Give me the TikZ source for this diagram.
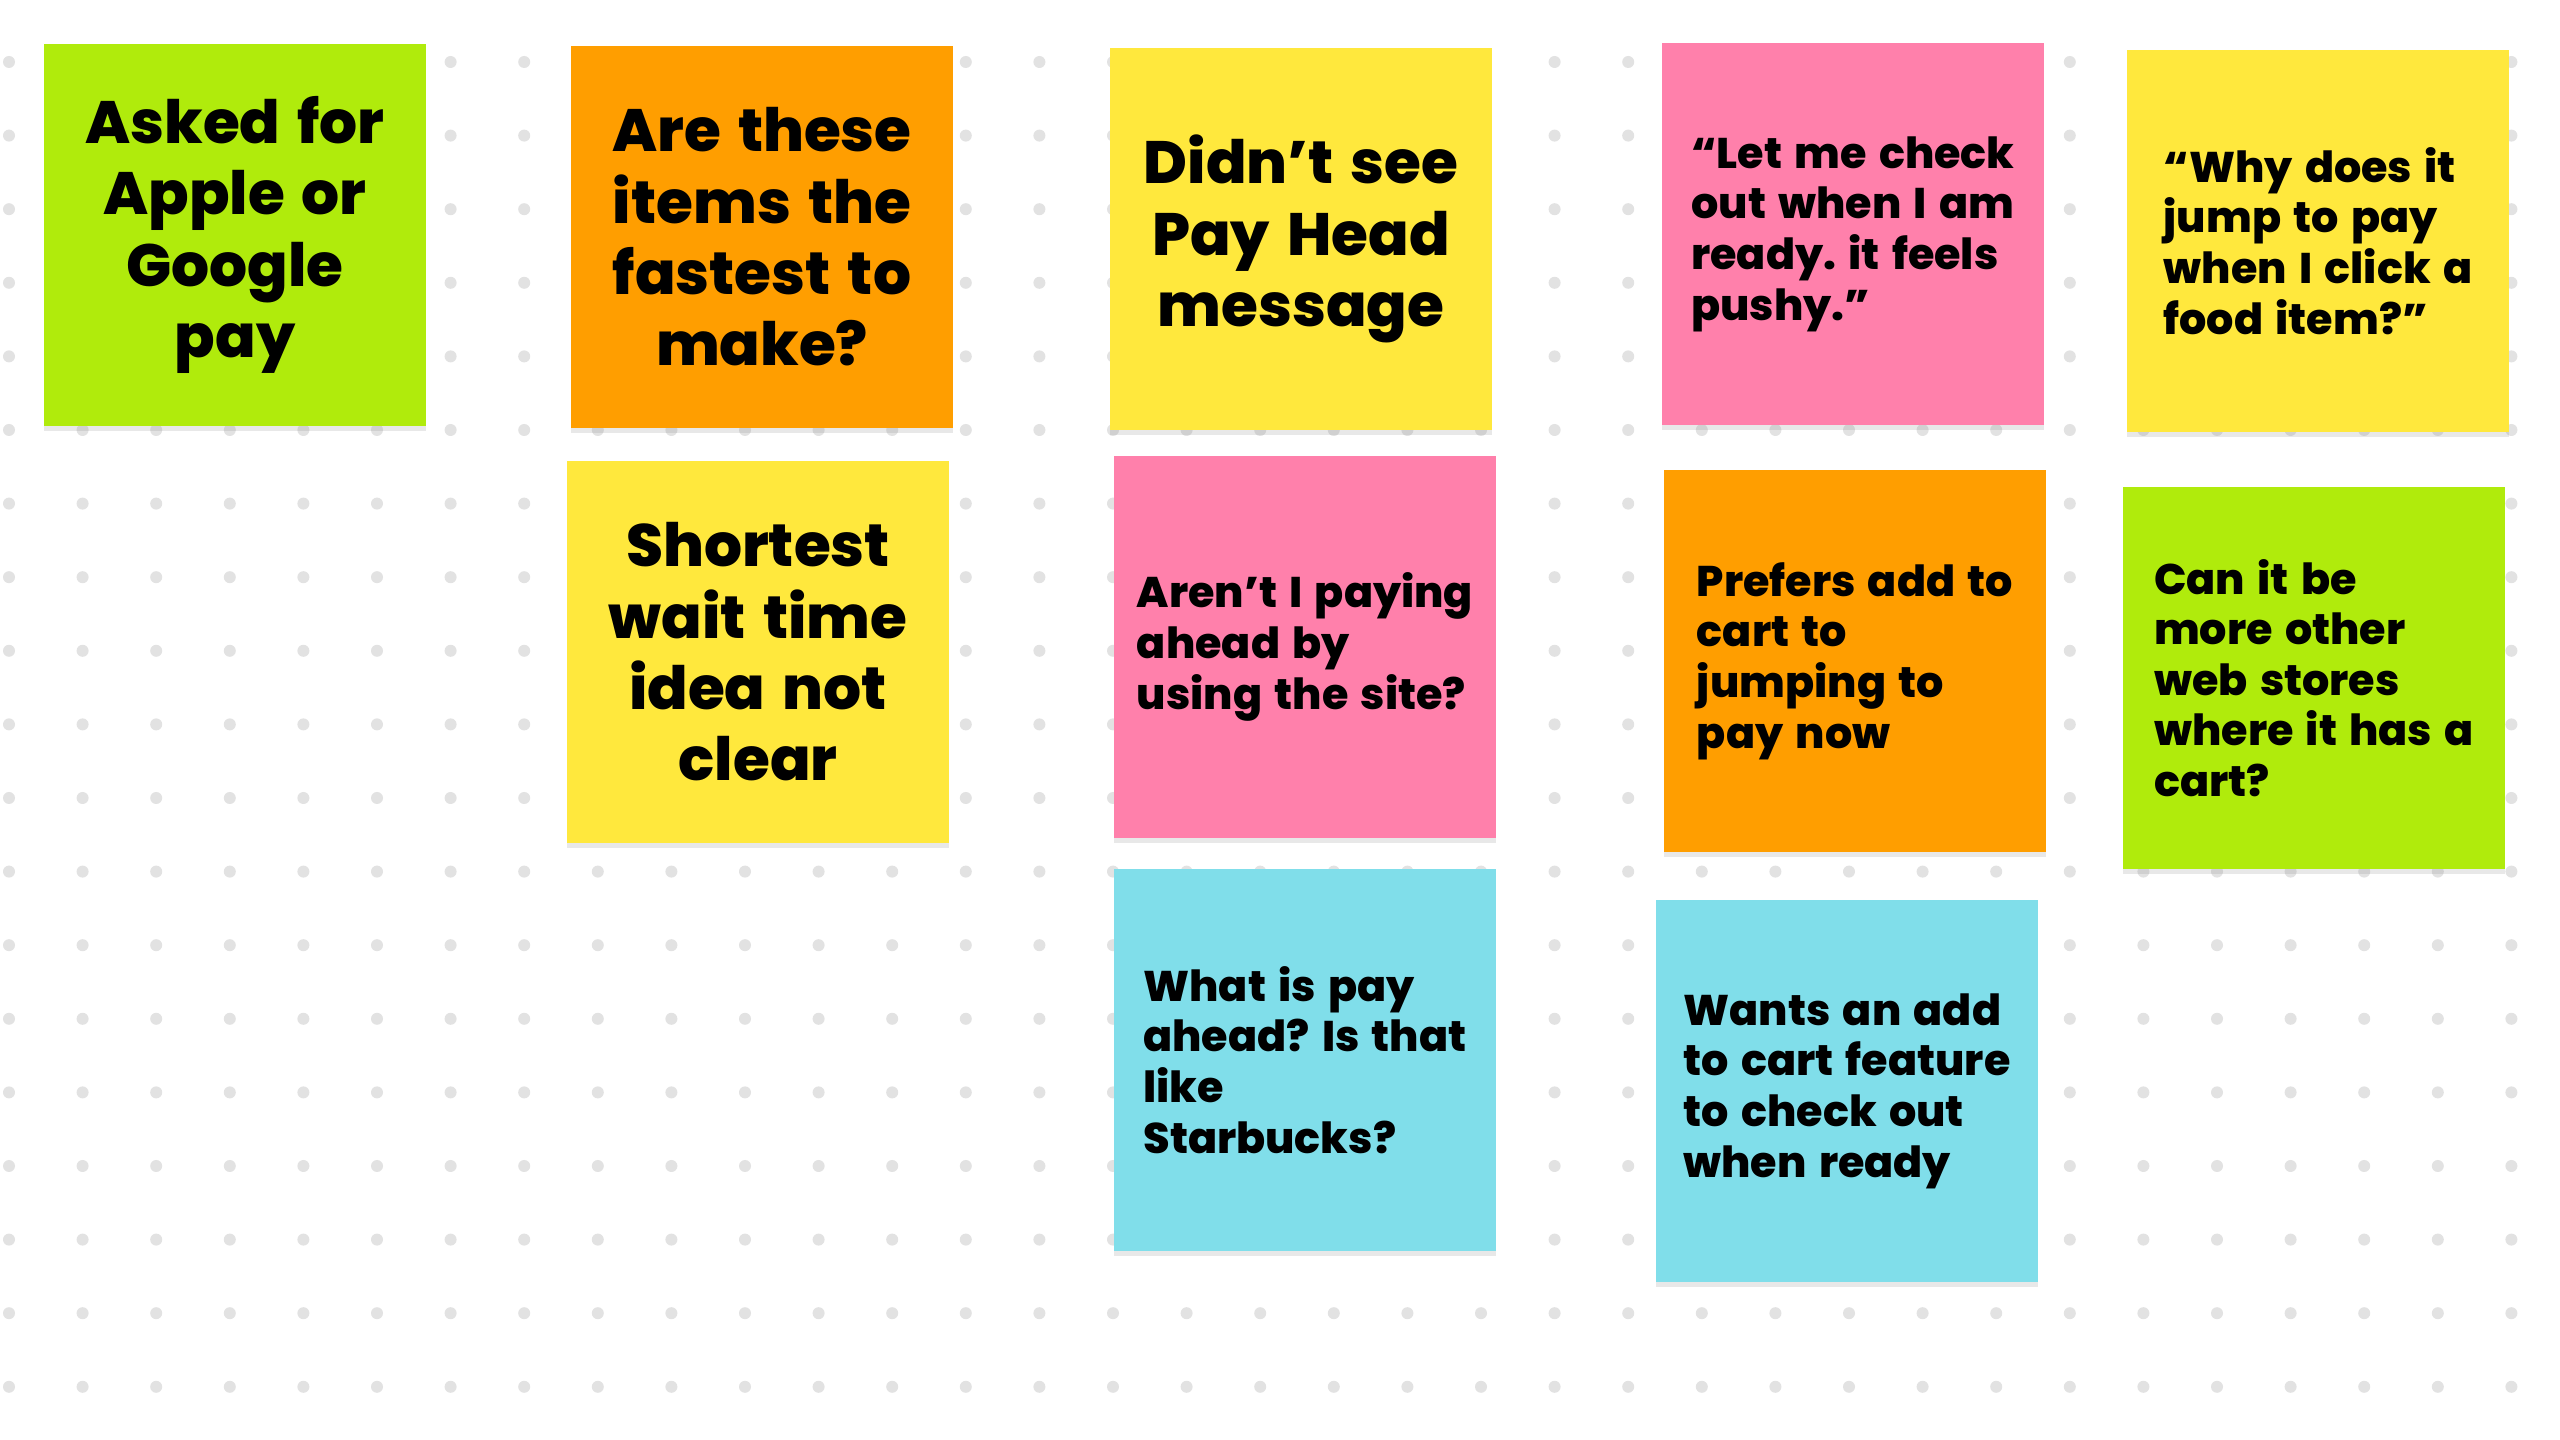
\documentclass[tikz,border=0pt]{standalone}
\usepackage{fontspec}
\setmainfont{Poppins}[BoldFont={Poppins ExtraBold}, WordSpace=1.5]
\usetikzlibrary{shadows}

\definecolor{notegreen}{RGB}{176,235,12}
\definecolor{noteorange}{RGB}{255,158,0}
\definecolor{noteyellow}{RGB}{255,232,61}
\definecolor{notepink}{RGB}{255,128,171}
\definecolor{notecyan}{RGB}{128,222,234}
\definecolor{griddot}{RGB}{226,226,226}

\tikzset{
  sticky/.style={rectangle, fill=#1, minimum width=38.2mm, minimum height=38.2mm,
    inner sep=0pt,
    drop shadow={shadow xshift=0pt, shadow yshift=-0.5mm, opacity=0.18}},
  bigtext/.style={align=center, font=\bfseries\fontsize{17}{20.3}\selectfont},
  smalltext/.style={align=left, font=\bfseries\fontsize{12.2}{14.4}\selectfont},
}

\frenchspacing

\begin{document}
\begin{tikzpicture}[x=0.1mm, y=-0.1mm]

  \fill[white] (0,0) rectangle (2560,1440);
  \useasboundingbox (0,0) rectangle (2560,1440);

  % ---------------- the dotted board ----------------
  \foreach \i in {0,...,34}
    \foreach \j in {0,...,18}
      \fill[griddot] (9+73.6*\i, 62+73.6*\j) circle (0.6mm);

  % ---------------- first row of notes ----------------
  \node[sticky=notegreen, bigtext] (applepay) at (235,235)
    {Asked for\\Apple or\\Google\\pay};
  \node[sticky=noteorange, bigtext] (fastest) at (762,237)
    {Are these\\items the\\fastest to\\make?};
  \node[sticky=noteyellow, bigtext] (payhead) at (1301,239)
    {Didn’t see\\Pay Head\\message};
  \node[sticky=notepink, smalltext] (letme) at (1853,234)
    {“Let me check\\out when I am\\ready. it feels\\pushy.”};
  \node[sticky=noteyellow, smalltext] (whyjump) at (2318,241)
    {“Why does it\\jump to pay\\when I click a\\food item?”};

  % ---------------- second row ----------------
  \node[sticky=noteyellow, bigtext] (waittime) at (758,652)
    {Shortest\\wait time\\idea not\\clear};
  \node[sticky=notepink, smalltext] (payingahead) at (1305,647)
    {Aren’t I paying\\ahead by\\using the site?};
  \node[sticky=noteorange, smalltext] (prefers) at (1855,661)
    {Prefers add to\\cart to\\jumping to\\pay now};
  \node[sticky=notegreen, smalltext] (webstores) at (2314,678)
    {Can it be\\more other\\web stores\\where it has a\\cart?};

  % ---------------- third row ----------------
  \node[sticky=notecyan, smalltext] (starbucks) at (1305,1060)
    {What is pay\\ahead? Is that\\like\\Starbucks?};
  \node[sticky=notecyan, smalltext] (addcart) at (1847,1091)
    {Wants an add\\to cart feature\\to check out\\when ready};

\end{tikzpicture}
\end{document}
